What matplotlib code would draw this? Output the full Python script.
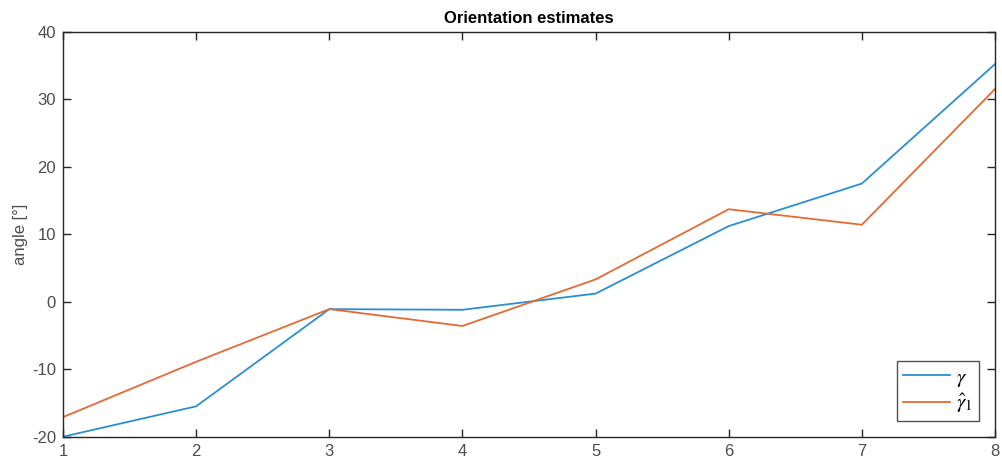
import matplotlib
matplotlib.use("Agg")
import matplotlib.pyplot as plt

# Orientation estimates per sample
samples = [1, 2, 3, 4, 5, 6, 7, 8]
gamma = [-20.0, -15.5, -1.1, -1.2, 1.2, 11.2, 17.5, 35.2]
gamma_hat = [-17.1, -8.9, -1.1, -3.6, 3.3, 13.7, 11.4, 31.5]

x_ticks = [1, 2, 3, 4, 5, 6, 7, 8]
y_ticks = [-20, -10, 0, 10, 20, 30, 40]

plt.rcParams["font.family"] = ["Liberation Sans", "DejaVu Sans"]
plt.rcParams["mathtext.fontset"] = "stix"
plt.rcParams["axes.unicode_minus"] = False

fig = plt.figure(figsize=(10.02, 4.66), dpi=100)
ax = fig.add_axes([0.0629, 0.0629, 0.9301, 0.8691])

ax.plot(samples, gamma, color="#2a8fd2", lw=1.3, label=r"$\gamma$")
ax.plot(samples, gamma_hat, color="#e46a34", lw=1.3, label=r"$\hat{\gamma}_1$")

ax.set_xlim(1, 8)
ax.set_ylim(-20, 40)
ax.set_xticks(x_ticks)
ax.set_yticks(y_ticks)
ax.tick_params(direction="in", top=True, right=True, length=6, width=1,
               colors="#262626", labelcolor="#4d4d4d", labelsize=12, pad=5)
for s in ax.spines.values():
    s.set_color("#262626")
    s.set_linewidth(1)

ax.set_title("Orientation estimates", fontsize=12, fontweight="bold", pad=6)
ax.set_ylabel("angle [°]", fontsize=12, color="#4d4d4d", labelpad=3)

leg = ax.legend(loc="lower right", fontsize=15, frameon=True, fancybox=False,
                edgecolor="#262626", handlelength=2.25, handletextpad=0.3,
                borderaxespad=0.75, labelspacing=0.15, borderpad=0.3)
leg.get_frame().set_linewidth(1)

fig.savefig("out.png", dpi=100)
